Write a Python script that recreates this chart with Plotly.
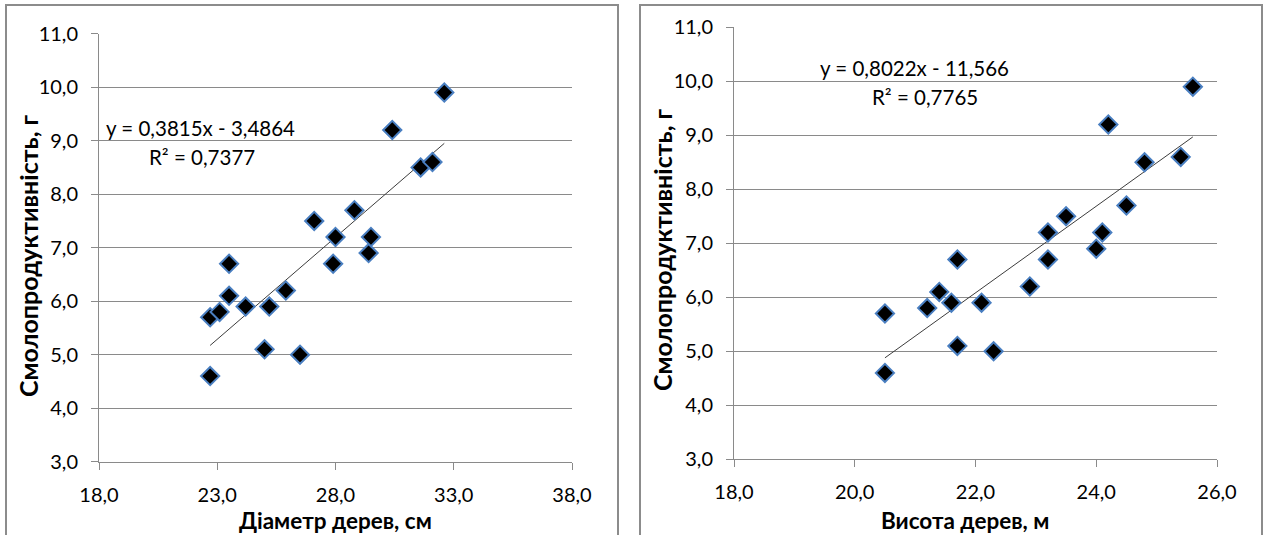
import plotly.graph_objects as go

# ---- data ----
diam_x = [22.7, 22.7, 23.1, 23.5, 23.5, 24.2, 25.2, 25.0, 25.9, 26.5,
          27.1, 28.0, 27.9, 28.8, 29.4, 29.5, 30.4, 31.6, 32.1, 32.6]
diam_y = [4.6, 5.7, 5.8, 6.1, 6.7, 5.9, 5.9, 5.1, 6.2, 5.0,
          7.5, 7.2, 6.7, 7.7, 6.9, 7.2, 9.2, 8.5, 8.6, 9.9]
height_x = [20.5, 20.5, 21.2, 21.4, 21.6, 21.7, 21.7, 22.3, 22.1, 22.9,
            23.2, 23.2, 23.5, 24.0, 24.1, 24.2, 24.5, 24.8, 25.4, 25.6]
height_y = [5.7, 4.6, 5.8, 6.1, 5.9, 5.1, 6.7, 5.0, 5.9, 6.2,
            6.7, 7.2, 7.5, 6.9, 7.2, 9.2, 7.7, 8.5, 8.6, 9.9]
trend_slope = [0.3815, 0.8022]
trend_intercept = [-3.4864, -11.566]
eq_texts = ["y = 0,3815x - 3,4864", "y = 0,8022x - 11,566"]
r2_texts = ["R² = 0,7377", "R² = 0,7765"]
x_titles = ["Діаметр дерев, см", "Висота дерев, м"]
y_title = "Смолопродуктивність, г"

W, H = 1264, 535
FONT = "Lato"
GRID = "#8a8a8a"
MARK_FILL = "#000000"
MARK_LINE = "#4a7fc1"

fig = go.Figure()

def trend_xy(xs, k):
    x0, x1 = min(xs), max(xs)
    return [x0, x1], [trend_slope[k] * x0 + trend_intercept[k], trend_slope[k] * x1 + trend_intercept[k]]

for k, (xs, ys, xa, ya) in enumerate([(diam_x, diam_y, "x", "y"), (height_x, height_y, "x2", "y2")]):
    tx, ty = trend_xy(xs, k)
    fig.add_trace(go.Scatter(x=tx, y=ty, mode="lines", xaxis=xa, yaxis=ya,
                             line=dict(color="#3c3c3c", width=1), showlegend=False, hoverinfo="skip"))
    fig.add_trace(go.Scatter(x=xs, y=ys, mode="markers", xaxis=xa, yaxis=ya,
                             marker=dict(symbol="diamond", size=14, color=MARK_FILL,
                                         line=dict(color=MARK_LINE, width=2)),
                             showlegend=False))

def px_x(p):
    return p / W

def px_y(p):
    return 1 - p / H

axis_common = dict(showline=True, linecolor=GRID, linewidth=1, ticks="outside", automargin=False,
                   ticklen=7, tickcolor=GRID, tickfont=dict(family=FONT, size=20, color="#000000"),
                   zeroline=False, tickformat=".1f")

fig.update_layout(
    width=W, height=H, autosize=False,
    margin=dict(l=0, r=0, t=0, b=0, pad=0),
    paper_bgcolor="white", plot_bgcolor="white",
    separators=", ",
    xaxis=dict(domain=[px_x(99), px_x(572)], range=[18, 38], dtick=5, tick0=18,
               showgrid=False, anchor="y", ticklabelstandoff=8, **axis_common),
    yaxis=dict(domain=[px_y(461.7), px_y(33.7)], range=[3, 11], dtick=1,
               showgrid=True, gridcolor=GRID, gridwidth=1, anchor="x", ticklabelstandoff=9, **axis_common),
    xaxis2=dict(domain=[px_x(734), px_x(1217)], range=[18, 26], dtick=2, tick0=18,
                showgrid=False, anchor="y2", ticklabelstandoff=8, **axis_common),
    yaxis2=dict(domain=[px_y(459.3), px_y(27.3)], range=[3, 11], dtick=1,
                showgrid=True, gridcolor=GRID, gridwidth=1, anchor="x2", ticklabelstandoff=9, **axis_common),
)

# panel borders
for (x0, x1) in [(6, 618), (640, 1262)]:
    fig.add_shape(type="rect", xref="paper", yref="paper",
                  x0=px_x(x0), x1=px_x(x1), y0=px_y(H + 5), y1=px_y(5),
                  line=dict(color="#8c8c8c", width=2), fillcolor="rgba(0,0,0,0)", layer="below")

ann = []
# axis titles
for cx, t in [(335, x_titles[0]), (965, x_titles[1])]:
    ann.append(dict(x=px_x(cx), y=px_y(520), xref="paper", yref="paper", text=t, showarrow=False,
                    font=dict(family=FONT, size=22.5, color="#000000", weight="bold"),
                    xanchor="center", yanchor="middle"))
for cx, cy in [(28, 256), (662, 250)]:
    ann.append(dict(x=px_x(cx), y=px_y(cy), xref="paper", yref="paper", text=y_title, showarrow=False,
                    textangle=-90,
                    font=dict(family=FONT, size=25, color="#000000", weight="bold"),
                    xanchor="center", yanchor="middle"))
# equations
for (ex, ey, rx, ry), k in [((104, 128, 147, 157), 0), ((818, 68, 870, 97), 1)]:
    ann.append(dict(x=px_x(ex), y=px_y(ey), xref="paper", yref="paper", text=eq_texts[k], showarrow=False,
                    font=dict(family=FONT, size=20.5, color="#000000"), xanchor="left", yanchor="middle"))
    ann.append(dict(x=px_x(rx), y=px_y(ry), xref="paper", yref="paper", text=r2_texts[k], showarrow=False,
                    font=dict(family=FONT, size=20.5, color="#000000"), xanchor="left", yanchor="middle"))
fig.update_layout(annotations=ann)

fig.write_html("out.html",
               config={"displayModeBar": False},
               post_script="document.body.style.margin='0px';document.body.style.overflow='hidden';")
